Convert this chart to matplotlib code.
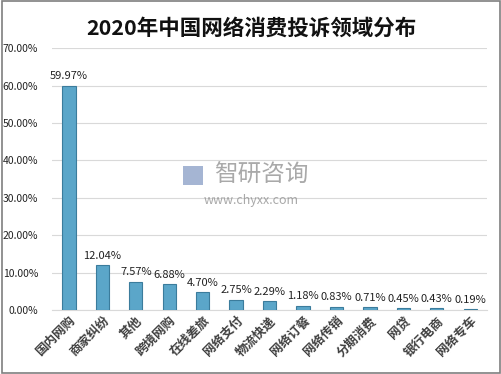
import matplotlib
matplotlib.use("Agg")
import matplotlib.pyplot as plt
from matplotlib.patches import Rectangle
from matplotlib.ticker import FuncFormatter, MultipleLocator

plt.rcParams['font.family'] = ['Noto Sans CJK SC', 'DejaVu Sans']

categories = ['国内网购', '商家纠纷', '其他', '跨境网购', '在线差旅', '网络支付', '物流快递',
              '网络订餐', '网络传销', '分期消费', '网贷', '银行电商', '网络专车']
values = [59.97, 12.04, 7.57, 6.88, 4.70, 2.75, 2.29, 1.18, 0.83, 0.71, 0.45, 0.43, 0.19]
title = '2020年中国网络消费投诉领域分布'

fig = plt.figure(figsize=(5.02, 3.74), dpi=100)
fig.patches.append(Rectangle((0.004, 0.004), 0.992, 0.992, transform=fig.transFigure,
                             fill=False, edgecolor='#7f7f7f', linewidth=1.2))
ax = fig.add_axes([0.104, 0.171, 0.866, 0.700])

x = list(range(len(categories)))
ax.bar(x, values, width=0.4, color='#5ba6c9', edgecolor='#3b7c9c', linewidth=0.8, zorder=3)
for xi, v in zip(x, values):
    ax.text(xi, v + 1.2, f'{v:.2f}%', ha='center', va='bottom', fontsize=8, color='#222222')

ax.set_ylim(0, 70)
ax.set_xlim(-0.5, len(categories) - 0.5)
ax.yaxis.set_major_locator(MultipleLocator(10))
ax.yaxis.set_major_formatter(FuncFormatter(lambda v, p: f'{v:.2f}%'))
ax.grid(axis='y', color='#d9d9d9', linewidth=0.8, zorder=0)
for s in ['top', 'right', 'left']:
    ax.spines[s].set_visible(False)
ax.spines['bottom'].set_color('#d9d9d9')
ax.tick_params(axis='y', length=0, labelsize=7.5, colors='#222222', pad=10)
ax.tick_params(axis='x', length=0, pad=3)
ax.set_xticks(x)
ax.set_xticklabels(categories, rotation=45, ha='right', rotation_mode='anchor',
                   fontsize=9, fontweight='bold', color='#404040')

fig.text(0.5, 0.925, title, ha='center', va='center', fontsize=15.5, fontweight='bold', color='#111111')

fig.patches.append(Rectangle((0.365, 0.505), 0.04, 0.05, transform=fig.transFigure,
                             facecolor='#8fa3c8', edgecolor='none', alpha=0.8))
fig.text(0.52, 0.53, '智研咨询', ha='center', va='center', fontsize=17, color='#8c8c8c', alpha=0.75)
fig.text(0.50, 0.465, 'www.chyxx.com', ha='center', va='center', fontsize=9, color='#8c8c8c', alpha=0.75)

fig.savefig('out.png', dpi=100)
